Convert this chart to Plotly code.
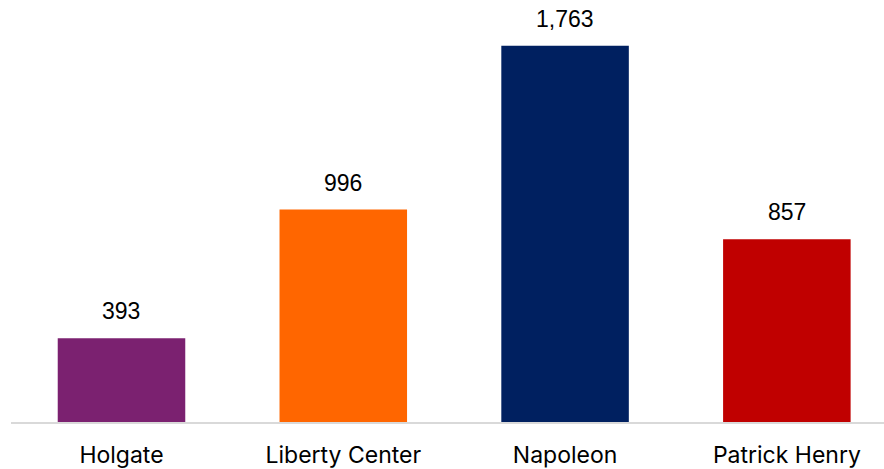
import plotly.graph_objects as go

schools = ["Holgate", "Liberty Center", "Napoleon", "Patrick Henry"]
values = [393, 996, 1763, 857]
colors = ["#7B2170", "#FF6600", "#002060", "#C00000"]

fig = go.Figure()
fig.add_trace(go.Bar(
    x=schools,
    y=values,
    marker=dict(color=colors, line=dict(width=0)),
    width=0.575,
    hoverinfo="skip",
))

# value labels above each bar
for s, v in zip(schools, values):
    fig.add_annotation(
        x=s, y=v, text=f"{v:,}", showarrow=False,
        yanchor="middle", yshift=27,
        font=dict(family="Liberation Sans, Arial, sans-serif", size=23, color="#000000"),
    )

fig.update_layout(
    width=884, height=469,
    margin=dict(l=0, r=0, t=0, b=47, autoexpand=False),
    paper_bgcolor="white", plot_bgcolor="white",
    showlegend=False,
    xaxis=dict(
        domain=[10.6 / 884, 1],
        range=[-0.5, 3.438],
        automargin=False,
        showgrid=False, zeroline=False,
        showline=True, linecolor="#D9D9D9", linewidth=1.5,
        ticks="", ticklabelstandoff=12,
        tickfont=dict(family="Inter, Liberation Sans, sans-serif", size=23, color="#000000"),
    ),
    yaxis=dict(
        range=[0, 1978],
        automargin=False,
        showgrid=False, zeroline=False, showline=False,
        showticklabels=False, ticks="",
    ),
)

fig.write_html("out.html")
